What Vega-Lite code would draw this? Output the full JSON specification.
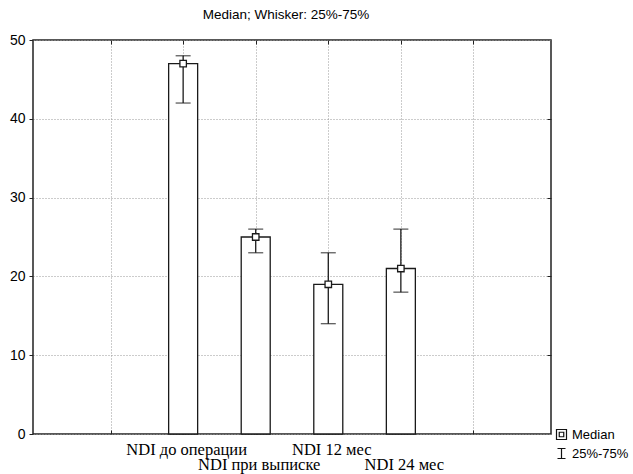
{
  "$schema": "https://vega.github.io/schema/vega-lite/v6.json",
  "width": 518,
  "height": 394,
  "autosize": "none",
  "padding": {"left": 33, "top": 40, "right": 82, "bottom": 40},
  "background": "white",
  "title": {
    "text": "Median; Whisker: 25%-75%",
    "font": "Liberation Sans",
    "fontSize": 13.5,
    "fontWeight": "normal",
    "color": "#000",
    "anchor": "middle",
    "frame": "group",
    "dx": -6,
    "offset": 12
  },
  "config": {
    "view": {"stroke": "#222", "strokeWidth": 1.5}
  },
  "data": {
    "values": [
      {"group": "NDI до операции", "pos": 2, "median": 47, "q1": 42, "q3": 48},
      {"group": "NDI при выписке", "pos": 3, "median": 25, "q1": 23, "q3": 26},
      {"group": "NDI 12 мес", "pos": 4, "median": 19, "q1": 14, "q3": 23},
      {"group": "NDI 24 мес", "pos": 5, "median": 21, "q1": 18, "q3": 26}
    ]
  },
  "resolve": {"axis": {"x": "independent", "y": "independent"}},
  "layer": [
    {
      "mark": {"type": "bar", "size": 29, "fill": "white", "stroke": "#1a1a1a", "strokeWidth": 1.3},
      "encoding": {
        "x": {
          "field": "pos", "type": "quantitative",
          "scale": {"domain": [0, 7], "nice": false, "zero": false},
          "axis": {
            "orient": "bottom",
            "title": null,
            "values": [1, 2, 3, 4, 5, 6],
            "domain": false,
            "ticks": true,
            "tickSize": -4,
            "tickColor": "#222",
            "grid": true,
            "gridDash": [1, 2],
            "gridColor": "#999",
            "labelExpr": "datum.value == 2 ? 'NDI до операции' : datum.value == 3 ? ['', 'NDI при выписке'] : datum.value == 4 ? 'NDI 12 мес' : datum.value == 5 ? ['', 'NDI 24 мес'] : ''",
            "labelFont": "Liberation Serif",
            "labelFontSize": 16.5,
            "labelColor": "#000",
            "labelLineHeight": 15,
            "labelOverlap": false,
            "labelBound": false,
            "labelFlush": false,
            "labelPadding": 11,
            "labelOffset": 3
          }
        },
        "y": {
          "field": "median", "type": "quantitative",
          "scale": {"domain": [0, 50], "nice": false},
          "axis": {
            "orient": "left",
            "title": null,
            "values": [0, 10, 20, 30, 40, 50],
            "domain": false,
            "ticks": true,
            "tickSize": 4,
            "tickColor": "#222",
            "grid": true,
            "gridDash": [1, 2],
            "gridColor": "#999",
            "labelFont": "Liberation Sans",
            "labelFontSize": 14,
            "labelColor": "#000",
            "labelPadding": 4
          }
        }
      }
    },
    {
      "mark": {"type": "rule", "stroke": "#1a1a1a", "strokeWidth": 1.3},
      "encoding": {
        "x": {
          "field": "pos", "type": "quantitative",
          "axis": {"orient": "top", "title": null, "values": [1, 2, 3, 4, 5, 6], "labels": false, "domain": false, "grid": false, "ticks": true, "tickSize": -4, "tickColor": "#222"}
        },
        "y": {
          "field": "q1", "type": "quantitative",
          "axis": {"orient": "right", "title": null, "values": [10, 20, 30, 40], "labels": false, "domain": false, "grid": false, "ticks": true, "tickSize": -4, "tickColor": "#222"}
        },
        "y2": {"field": "q3"}
      }
    },
    {
      "mark": {"type": "tick", "orient": "horizontal", "size": 15, "thickness": 1.3, "color": "#1a1a1a"},
      "encoding": {
        "x": {"field": "pos", "type": "quantitative", "axis": null},
        "y": {"field": "q1", "type": "quantitative", "axis": null}
      }
    },
    {
      "mark": {"type": "tick", "orient": "horizontal", "size": 15, "thickness": 1.3, "color": "#1a1a1a"},
      "encoding": {
        "x": {"field": "pos", "type": "quantitative", "axis": null},
        "y": {"field": "q3", "type": "quantitative", "axis": null}
      }
    },
    {
      "mark": {"type": "point", "shape": "square", "size": 42, "filled": true, "fill": "white", "stroke": "#1a1a1a", "strokeWidth": 1.3, "opacity": 1},
      "encoding": {
        "x": {"field": "pos", "type": "quantitative", "axis": null},
        "y": {"field": "median", "type": "quantitative", "axis": null}
      }
    },
    {
      "mark": {"type": "point", "opacity": 0, "filled": false},
      "encoding": {
        "x": {"field": "pos", "type": "quantitative", "axis": null},
        "y": {"field": "median", "type": "quantitative", "axis": null},
        "shape": {
          "datum": "Median", "type": "nominal",
          "scale": {
            "domain": ["Median", "25%-75%"],
            "range": ["M-1,-1H1V1H-1Z M-0.45,-0.45H0.45V0.45H-0.45Z", "M-0.8,-1H0.8M0,-1V1M-0.8,1H0.8"]
          },
          "legend": {
            "title": null,
            "orient": "none",
            "legendX": 522,
            "legendY": 388,
            "padding": 0,
            "labelFont": "Liberation Sans",
            "labelFontSize": 13,
            "labelColor": "#000",
            "labelOffset": 4,
            "rowPadding": 4,
            "symbolSize": 100,
            "symbolStrokeWidth": 1.2,
            "symbolStrokeColor": "#111",
            "symbolFillColor": "white",
            "encode": {
              "symbols": {
                "update": {
                  "opacity": {"value": 1},
                  "fill": {"value": "white"},
                  "stroke": {"value": "#111"},
                  "strokeWidth": {"value": 1.2}
                }
              }
            }
          }
        }
      }
    },
    {
      "mark": {"type": "point", "opacity": 0, "filled": false},
      "encoding": {
        "x": {"field": "pos", "type": "quantitative", "axis": null},
        "y": {"field": "median", "type": "quantitative", "axis": null},
        "shape": {"datum": "25%-75%", "type": "nominal"}
      }
    }
  ]
}
